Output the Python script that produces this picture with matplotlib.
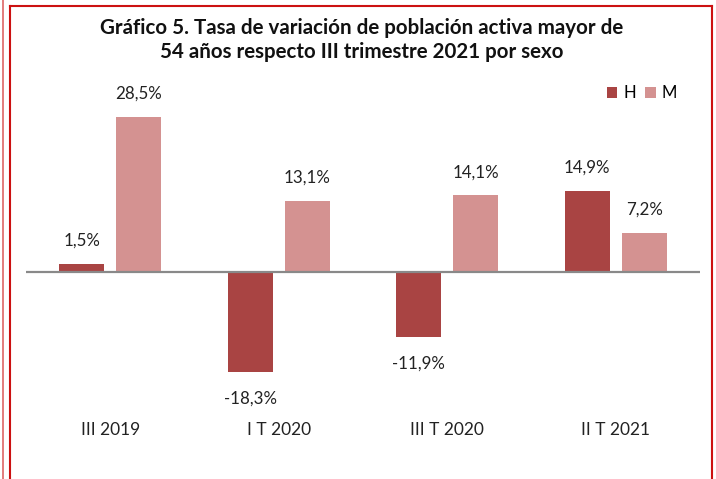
import matplotlib
matplotlib.use("Agg")
import matplotlib.pyplot as plt
from matplotlib.lines import Line2D
import numpy as np

categories = ["III 2019", "I T 2020", "III T 2020", "II T 2021"]
h_values = [1.5, -18.3, -11.9, 14.9]
m_values = [28.5, 13.1, 14.1, 7.2]
series_names = ["H", "M"]
title = "Gráfico 5. Tasa de variación de población activa mayor de\n54 años respecto III trimestre 2021 por sexo"

W, H = 716, 479
fig = plt.figure(figsize=(W / 100, H / 100), dpi=100)
plt.rcParams['font.family'] = ['Lato', 'DejaVu Sans']

col_h = "#A94443"
col_m = "#D49291"

ax = fig.add_axes([26 / W, 1 - 413.7 / H, (700 - 26) / W, (413.7 - 81.25) / H])
x = np.arange(len(categories))
bw = 0.267
off = 0.169
ax.bar(x - off, h_values, bw, color=col_h, label=series_names[0])
ax.bar(x + off, m_values, bw, color=col_m, label=series_names[1])
ax.set_xlim(-0.5, len(categories) - 0.5)
ax.set_ylim(-26, 35)
ax.axhline(0, color="#898989", lw=1.6, zorder=3)
for s in ax.spines.values():
    s.set_visible(False)
ax.set_yticks([])
ax.set_xticks(x)
ax.set_xticklabels(categories, fontsize=12.5, color="#222222")
ax.tick_params(axis='x', length=0, pad=6)

def fmt(v):
    return f"{v:.1f}".replace(".", ",") + "%"

for xs, vals in ((x - off, h_values), (x + off, m_values)):
    for xi, v in zip(xs, vals):
        dy = 16.5 if v >= 0 else -19.5
        ax.annotate(fmt(v), (xi, v), xytext=(0, dy), textcoords="offset points",
                    ha="center", va="center", fontsize=12.2, color="#222222")

fig.text(362 / W, 1 - 40 / H, title, ha="center", va="center", fontsize=14.8,
         fontweight="bold", color="#111111", linespacing=1.3)

ax.legend(loc="upper right", bbox_to_anchor=(677 / W, 1 - 85 / H),
          bbox_transform=fig.transFigure, ncol=2, frameon=False,
          fontsize=12, handlelength=0.65, handleheight=0.65,
          handletextpad=0.35, columnspacing=0.55, borderaxespad=0, borderpad=0)

# border lines
red = "#CC1111"
fig.add_artist(Line2D([9.5 / W, 9.5 / W], [0, 1 - 5.5 / H], color=red, lw=1.5, transform=fig.transFigure))
fig.add_artist(Line2D([9.5 / W, 711.5 / W], [1 - 5.5 / H, 1 - 5.5 / H], color=red, lw=1.5, transform=fig.transFigure))
fig.add_artist(Line2D([711.5 / W, 711.5 / W], [0, 1 - 5.5 / H], color=red, lw=1.5, transform=fig.transFigure))
fig.add_artist(Line2D([2.5 / W, 2.5 / W], [0, 1], color="#DD6666", lw=1.2, transform=fig.transFigure))

fig.savefig("out.png", dpi=100)
